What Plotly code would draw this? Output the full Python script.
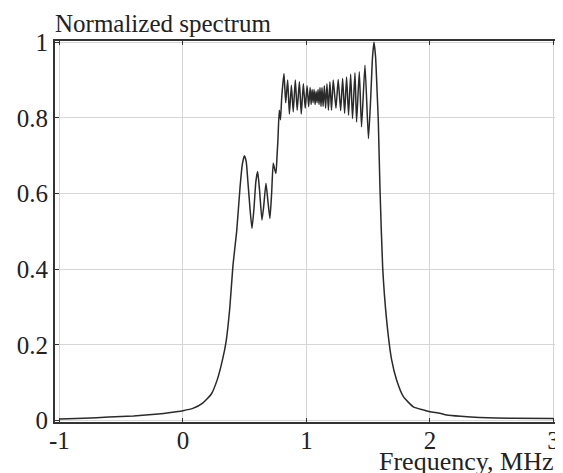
import plotly.graph_objects as go

# Frequency (MHz) and normalized spectrum values
freq = [-1.0, -0.8, -0.6, -0.4, -0.2, -0.1, 0.0, 0.08, 0.16, 0.23, 0.28, 0.32, 0.35, 0.38,
        0.405, 0.435, 0.462, 0.48, 0.497, 0.512, 0.525, 0.543, 0.559, 0.575, 0.59, 0.605,
        0.62, 0.64, 0.655, 0.672, 0.688, 0.704, 0.718, 0.731, 0.742, 0.753, 0.762, 0.769,
        0.78, 0.79, 0.80, 0.818, 0.832, 0.848, 0.862, 0.878, 0.893, 0.91, 0.925, 0.943,
        0.958, 0.975, 0.99, 1.005, 1.018, 1.03, 1.038, 1.046, 1.054, 1.062, 1.07, 1.078,
        1.086, 1.094, 1.102, 1.11, 1.118, 1.126, 1.135, 1.145, 1.155, 1.166, 1.178, 1.19,
        1.203, 1.217, 1.239, 1.257, 1.277, 1.293, 1.309, 1.325, 1.341, 1.358, 1.373, 1.393,
        1.406, 1.428, 1.446, 1.474, 1.502, 1.52, 1.535, 1.547, 1.56, 1.572, 1.582, 1.595,
        1.617, 1.649, 1.69, 1.73, 1.785, 1.866, 1.946, 2.0, 2.08, 2.135, 2.25, 2.4, 2.67, 3.0]
spectrum = [0.004, 0.006, 0.009, 0.012, 0.017, 0.021, 0.026, 0.032, 0.046, 0.07, 0.11, 0.16, 0.21, 0.30,
            0.41, 0.50, 0.615, 0.675, 0.70, 0.685, 0.635, 0.56, 0.508, 0.56, 0.63, 0.658,
            0.61, 0.53, 0.57, 0.627, 0.58, 0.534, 0.60, 0.68, 0.665, 0.653, 0.70, 0.741,
            0.82, 0.795, 0.855, 0.917, 0.84, 0.90, 0.81, 0.886, 0.816, 0.90, 0.82, 0.895,
            0.81, 0.89, 0.825, 0.885, 0.83, 0.88, 0.835, 0.875, 0.84, 0.875, 0.835, 0.87,
            0.84, 0.875, 0.835, 0.88, 0.83, 0.88, 0.83, 0.885, 0.825, 0.89, 0.82, 0.895,
            0.82, 0.90, 0.825, 0.901, 0.819, 0.904, 0.812, 0.908, 0.807, 0.915, 0.798, 0.919,
            0.789, 0.922, 0.776, 0.939, 0.745, 0.85, 0.96, 1.0, 0.96, 0.87, 0.79, 0.618,
            0.406, 0.266, 0.16, 0.107, 0.063, 0.036, 0.028, 0.023, 0.019, 0.0145, 0.011, 0.008, 0.006, 0.005]

x_ticks = [-1, 0, 1, 2, 3]
x_tick_labels = ["-1", "0", "1", "2", "3"]
y_ticks = [0, 0.2, 0.4, 0.6, 0.8, 1]
y_tick_labels = ["0", "0.2", "0.4", "0.6", "0.8", "1"]

FONT = "Liberation Serif, Times New Roman, serif"

fig = go.Figure()
fig.add_trace(go.Scatter(x=freq, y=spectrum, mode="lines",
                         line=dict(color="#2a2a2a", width=1.5, shape="spline", smoothing=0.5),
                         hoverinfo="skip", showlegend=False))

axis_common = dict(showline=True, linecolor="#333333", linewidth=2, mirror="ticks",
                   ticks="inside", ticklen=4, tickcolor="#333333", tickwidth=1,
                   showgrid=True, gridcolor="#d6d6d6", gridwidth=1, zeroline=False,
                   automargin=False,
                   tickfont=dict(family=FONT, size=25, color="#222222"))

# The page body has an 8px default margin; the figure size and margins account for it.
fig.update_layout(
    width=555, height=465,
    margin=dict(l=47, r=4, t=33, b=51),
    paper_bgcolor="white", plot_bgcolor="white",
    xaxis=dict(range=[-1.036, 3.045], tickvals=x_ticks, ticktext=x_tick_labels,
               ticklabelstandoff=-5, **axis_common),
    yaxis=dict(range=[-0.004, 1.003], tickvals=y_ticks, ticktext=y_tick_labels, **axis_common),
    annotations=[
        dict(text="Normalized spectrum", xref="paper", yref="paper", x=-0.004, y=1.045,
             xanchor="left", yanchor="middle", showarrow=False,
             font=dict(family=FONT, size=25, color="#222222")),
        dict(text="Frequency, MHz", xref="paper", yref="paper", x=0.992, y=-0.103,
             xanchor="right", yanchor="middle", showarrow=False,
             font=dict(family=FONT, size=26, color="#222222")),
        dict(text="(a)", xref="paper", yref="paper", x=0.492, y=1.097,
             xanchor="center", yanchor="bottom", showarrow=False,
             font=dict(family=FONT, size=25, color="#222222")),
    ],
)

fig.write_html("out.html")
